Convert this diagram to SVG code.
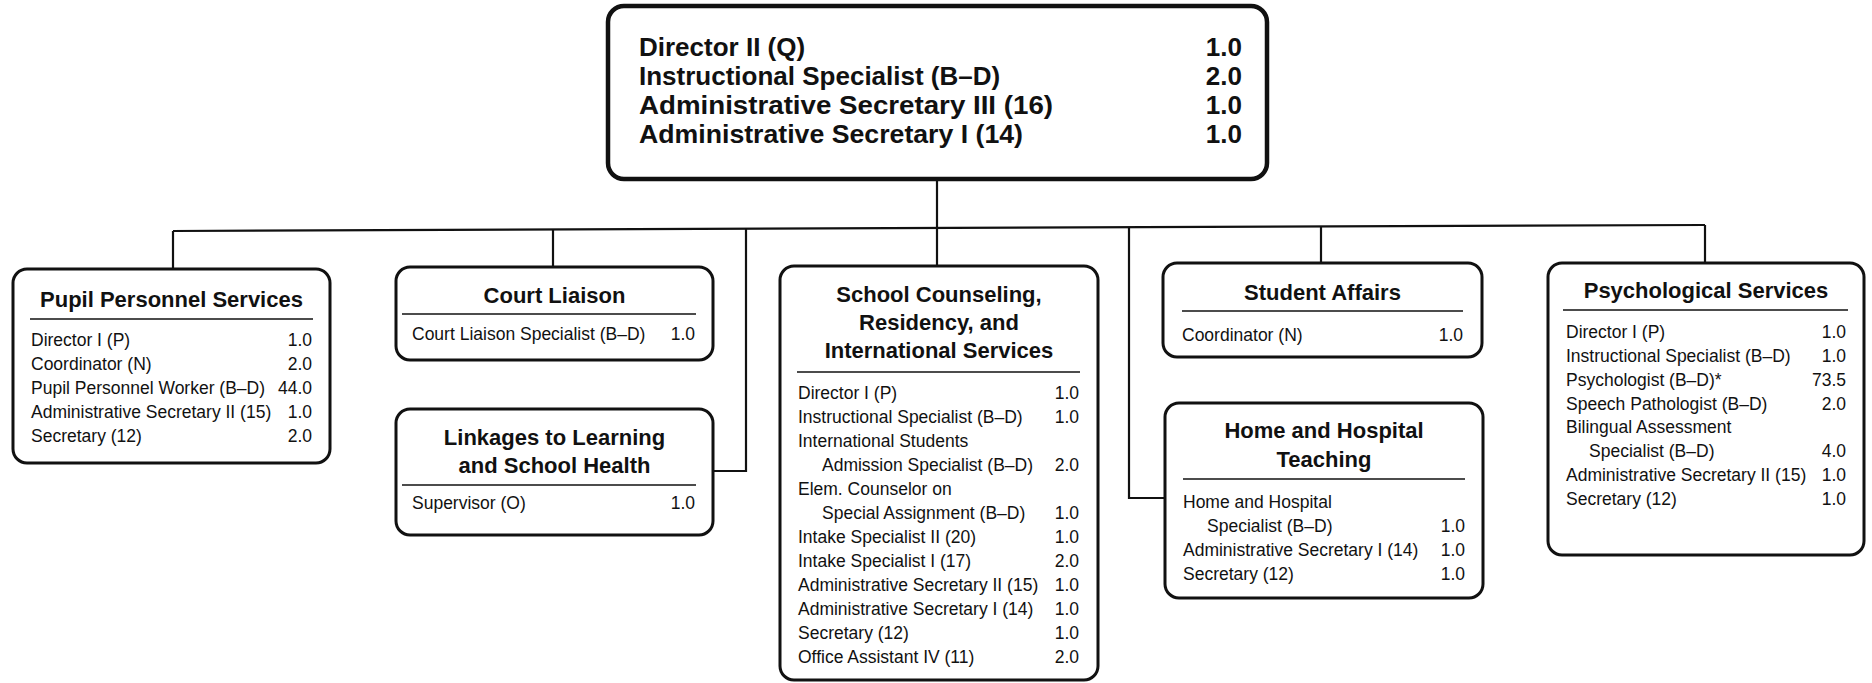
<svg xmlns="http://www.w3.org/2000/svg" width="1872" height="683" viewBox="0 0 1872 683">
<style>
.box{fill:#fff;stroke:#111;stroke-width:3}
.topbox{fill:#fff;stroke:#111;stroke-width:4.5}
text{font-family:"Liberation Sans",Arial,sans-serif;fill:#111}
.h0{font-size:26px;font-weight:bold}
.h{font-size:22px;font-weight:bold;text-anchor:middle}
.b{font-size:17.5px}
.n{text-anchor:end}
.sep{stroke:#111;stroke-width:1.6}
.conn{stroke:#111;stroke-width:2.2;fill:none}
</style>
<rect width="1872" height="683" fill="#fff"/>
<g id="connectors">
<path class="conn" d="M937,179 V228"/>
<path class="conn" d="M173,231 L1705,225"/>
<path class="conn" d="M173,231 V269"/>
<path class="conn" d="M553,229.5 V267"/>
<path class="conn" d="M746,228.8 V471 H713"/>
<path class="conn" d="M937,228 V266"/>
<path class="conn" d="M1129,227.3 V498 H1165"/>
<path class="conn" d="M1321,226.5 V263"/>
<path class="conn" d="M1705,225 V263"/>
</g>
<g id="director">
<rect class="topbox" x="608" y="6" width="659" height="173" rx="16"/>
<text class="h0" x="639" y="56">Director II (Q)</text>
<text class="h0" x="639" y="85">Instructional Specialist (B–D)</text>
<text class="h0" x="639" y="114" textLength="414" lengthAdjust="spacingAndGlyphs">Administrative Secretary III (16)</text>
<text class="h0" x="639" y="143" textLength="384" lengthAdjust="spacingAndGlyphs">Administrative Secretary I (14)</text>
<text class="h0 n" x="1242" y="56">1.0</text>
<text class="h0 n" x="1242" y="85">2.0</text>
<text class="h0 n" x="1242" y="114">1.0</text>
<text class="h0 n" x="1242" y="143">1.0</text>
</g>
<g id="pupil-personnel">
<rect class="box" x="13" y="269" width="317" height="194" rx="14"/>
<text class="h" x="171.5" y="307">Pupil Personnel Services</text>
<line class="sep" x1="30" y1="319" x2="313" y2="319"/>
<text class="b" x="31" y="346">Director I (P)</text>
<text class="b" x="31" y="370">Coordinator (N)</text>
<text class="b" x="31" y="394">Pupil Personnel Worker (B–D)</text>
<text class="b" x="31" y="418">Administrative Secretary II (15)</text>
<text class="b" x="31" y="442">Secretary (12)</text>
<text class="b n" x="312" y="346">1.0</text>
<text class="b n" x="312" y="370">2.0</text>
<text class="b n" x="312" y="394">44.0</text>
<text class="b n" x="312" y="418">1.0</text>
<text class="b n" x="312" y="442">2.0</text>
</g>
<g id="court-liaison">
<rect class="box" x="396" y="267" width="317" height="93" rx="14"/>
<text class="h" x="554.5" y="303">Court Liaison</text>
<line class="sep" x1="402" y1="314" x2="696" y2="314"/>
<text class="b" x="412" y="340">Court Liaison Specialist (B–D)</text>
<text class="b n" x="695" y="340">1.0</text>
</g>
<g id="linkages">
<rect class="box" x="396" y="409" width="317" height="126" rx="14"/>
<text class="h" x="554.5" y="445">Linkages to Learning</text>
<text class="h" x="554.5" y="473">and School Health</text>
<line class="sep" x1="402" y1="485" x2="696" y2="485"/>
<text class="b" x="412" y="509">Supervisor (O)</text>
<text class="b n" x="695" y="509">1.0</text>
</g>
<g id="school-counseling">
<rect class="box" x="780" y="266" width="318" height="414" rx="14"/>
<text class="h" x="939" y="302">School Counseling,</text>
<text class="h" x="939" y="330">Residency, and</text>
<text class="h" x="939" y="358">International Services</text>
<line class="sep" x1="797" y1="372" x2="1080" y2="372"/>
<text class="b" x="798" y="399">Director I (P)</text>
<text class="b" x="798" y="423">Instructional Specialist (B–D)</text>
<text class="b" x="798" y="447">International Students</text>
<text class="b" x="822" y="471">Admission Specialist (B–D)</text>
<text class="b" x="798" y="495">Elem. Counselor on</text>
<text class="b" x="822" y="519">Special Assignment (B–D)</text>
<text class="b" x="798" y="543">Intake Specialist II (20)</text>
<text class="b" x="798" y="567">Intake Specialist I (17)</text>
<text class="b" x="798" y="591">Administrative Secretary II (15)</text>
<text class="b" x="798" y="615">Administrative Secretary I (14)</text>
<text class="b" x="798" y="639">Secretary (12)</text>
<text class="b" x="798" y="663">Office Assistant IV (11)</text>
<text class="b n" x="1079" y="399">1.0</text>
<text class="b n" x="1079" y="423">1.0</text>
<text class="b n" x="1079" y="471">2.0</text>
<text class="b n" x="1079" y="519">1.0</text>
<text class="b n" x="1079" y="543">1.0</text>
<text class="b n" x="1079" y="567">2.0</text>
<text class="b n" x="1079" y="591">1.0</text>
<text class="b n" x="1079" y="615">1.0</text>
<text class="b n" x="1079" y="639">1.0</text>
<text class="b n" x="1079" y="663">2.0</text>
</g>
<g id="student-affairs">
<rect class="box" x="1163" y="263" width="319" height="94" rx="14"/>
<text class="h" x="1322.5" y="300">Student Affairs</text>
<line class="sep" x1="1182" y1="311" x2="1463" y2="311"/>
<text class="b" x="1182" y="341">Coordinator (N)</text>
<text class="b n" x="1463" y="341">1.0</text>
</g>
<g id="home-hospital">
<rect class="box" x="1165" y="403" width="318" height="195" rx="14"/>
<text class="h" x="1324" y="438">Home and Hospital</text>
<text class="h" x="1324" y="467">Teaching</text>
<line class="sep" x1="1183" y1="479" x2="1465" y2="479"/>
<text class="b" x="1183" y="508">Home and Hospital</text>
<text class="b" x="1207" y="532">Specialist (B–D)</text>
<text class="b" x="1183" y="556">Administrative Secretary I (14)</text>
<text class="b" x="1183" y="580">Secretary (12)</text>
<text class="b n" x="1465" y="532">1.0</text>
<text class="b n" x="1465" y="556">1.0</text>
<text class="b n" x="1465" y="580">1.0</text>
</g>
<g id="psychological">
<rect class="box" x="1548" y="263" width="316" height="292" rx="14"/>
<text class="h" x="1706" y="298">Psychological Services</text>
<line class="sep" x1="1563" y1="310" x2="1848" y2="310"/>
<text class="b" x="1566" y="338">Director I (P)</text>
<text class="b" x="1566" y="362">Instructional Specialist (B–D)</text>
<text class="b" x="1566" y="386">Psychologist (B–D)*</text>
<text class="b" x="1566" y="410">Speech Pathologist (B–D)</text>
<text class="b" x="1566" y="433">Bilingual Assessment</text>
<text class="b" x="1589" y="457">Specialist (B–D)</text>
<text class="b" x="1566" y="481">Administrative Secretary II (15)</text>
<text class="b" x="1566" y="505">Secretary (12)</text>
<text class="b n" x="1846" y="338">1.0</text>
<text class="b n" x="1846" y="362">1.0</text>
<text class="b n" x="1846" y="386">73.5</text>
<text class="b n" x="1846" y="410">2.0</text>
<text class="b n" x="1846" y="457">4.0</text>
<text class="b n" x="1846" y="481">1.0</text>
<text class="b n" x="1846" y="505">1.0</text>
</g>
</svg>
